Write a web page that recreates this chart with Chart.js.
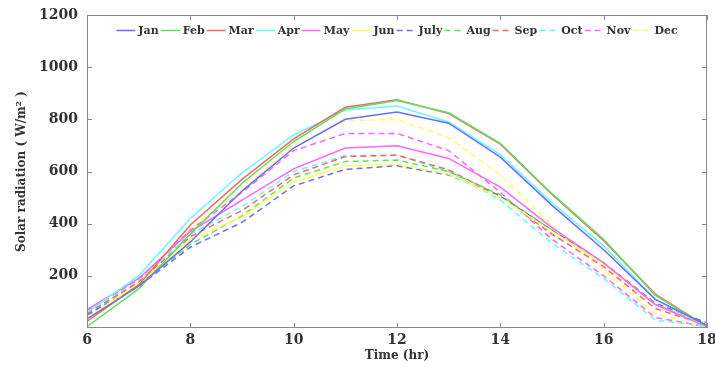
<!DOCTYPE html>
<html>
<head>
<meta charset="utf-8">
<script src="https://cdn.jsdelivr.net/npm/chart.js@4"></script>
<style>
  html, body { margin: 0; padding: 0; background: #fff; }
  #wrap { width: 715px; height: 367px; position: relative; }
</style>
</head>
<body>
<div id="wrap"><canvas id="solar-chart"></canvas></div>
<script>
// ── Data ──────────────────────────────────────────────────────────────────
const hours = [6, 7, 8, 9, 10, 11, 12, 13, 14, 15, 16, 17, 18];

const jan  = [35, 160, 330, 525, 690, 800, 828, 785, 655, 470, 300, 110, 10];
const feb  = [5, 150, 360, 555, 715, 840, 872, 825, 708, 515, 340, 125, 5];
const mar  = [25, 165, 395, 570, 725, 846, 875, 822, 705, 512, 335, 130, 5];
const apr  = [60, 200, 420, 595, 740, 836, 851, 790, 665, 480, 315, 110, 5];
const may  = [70, 190, 370, 490, 610, 690, 699, 650, 540, 385, 250, 90, 5];
const jun  = [40, 170, 340, 425, 560, 621, 629, 590, 500, 370, 245, 90, 5];
const july = [50, 160, 310, 405, 545, 608, 622, 587, 505, 375, 250, 95, 20];
const aug  = [50, 165, 320, 430, 575, 638, 644, 600, 510, 375, 245, 90, 10];
const sep  = [55, 175, 350, 450, 587, 657, 663, 606, 505, 360, 235, 75, 10];
const oct  = [58, 180, 360, 465, 600, 661, 662, 600, 490, 325, 190, 30, 5];
const nov  = [65, 185, 375, 520, 680, 746, 746, 680, 520, 340, 200, 40, 5];
const dec  = [45, 180, 380, 530, 700, 795, 800, 730, 587, 395, 222, 55, 5];

const monthNames = ['Jan', 'Feb', 'Mar', 'Apr', 'May', 'Jun', 'July', 'Aug', 'Sep', 'Oct', 'Nov', 'Dec'];
const monthSeries = [jan, feb, mar, apr, may, jun, july, aug, sep, oct, nov, dec];

const xTicks = [6, 8, 10, 12, 14, 16, 18];
const yTicks = [200, 400, 600, 800, 1000, 1200];

// ── Styles ───────────────────────────────────────────────────────────────
const palette = ['#6b6bff', '#5fe05f', '#ff6464', '#66ffff', '#ff66ff', '#ffff66'];
const AXIS_COLOR = '#8a8a8a';
const TEXT_COLOR = '#333333';
const SERIF = '"DejaVu Serif", serif';

const datasets = monthSeries.map((vals, i) => ({
    label: monthNames[i],
    data: vals.map((v, k) => ({ x: hours[k], y: v })),
    borderColor: palette[i % 6],
    backgroundColor: palette[i % 6],
    borderWidth: 1.5,
    borderDash: i < 6 ? [] : [6, 4],
    pointRadius: 0,
    tension: 0,
    fill: false,
}));

// box round the plot with inward ticks, like the reference
const boxPlugin = {
    id: 'boxPlugin',
    afterDatasetsDraw(chart) {
        const { ctx, chartArea: a, scales } = chart;
        ctx.save();
        ctx.strokeStyle = AXIS_COLOR;
        ctx.lineWidth = 1;
        ctx.setLineDash([]);
        ctx.strokeRect(a.left + 0.5, a.top + 0.5, a.right - a.left - 1, a.bottom - a.top - 1);
        const len = 5;
        ctx.beginPath();
        xTicks.forEach(t => {
            const px = Math.round(scales.x.getPixelForValue(t)) + 0.5;
            ctx.moveTo(px, a.bottom); ctx.lineTo(px, a.bottom - len);
            ctx.moveTo(px, a.top);    ctx.lineTo(px, a.top + len);
        });
        yTicks.forEach(t => {
            const py = Math.round(scales.y.getPixelForValue(t)) + 0.5;
            ctx.moveTo(a.left, py);  ctx.lineTo(a.left + len, py);
            ctx.moveTo(a.right, py); ctx.lineTo(a.right - len, py);
        });
        ctx.stroke();
        ctx.restore();
    },
};

// horizontal legend inside the plot, top centre
const innerLegend = {
    id: 'innerLegend',
    afterDatasetsDraw(chart) {
        const { ctx, chartArea: a } = chart;
        const lineW = 19, gapIn = 3, gapOut = 2;
        ctx.save();
        ctx.font = 'bold 11px ' + SERIF;
        const items = chart.data.datasets.map(ds => ({ ds, w: ctx.measureText(ds.label).width }));
        const total = items.reduce((s, it) => s + lineW + gapIn + it.w, 0) + gapOut * (items.length - 1);
        let x = (a.left + a.right) / 2 - total / 2;
        const y = a.top + 15.5;
        ctx.textBaseline = 'middle';
        items.forEach(({ ds, w }) => {
            ctx.strokeStyle = ds.borderColor;
            ctx.lineWidth = 1.5;
            ctx.setLineDash(ds.borderDash);
            ctx.beginPath();
            ctx.moveTo(x, y); ctx.lineTo(x + lineW, y);
            ctx.stroke();
            ctx.setLineDash([]);
            ctx.fillStyle = TEXT_COLOR;
            ctx.fillText(ds.label, x + lineW + gapIn, y + 1);
            x += lineW + gapIn + w + gapOut;
        });
        ctx.restore();
    },
};

new Chart(document.getElementById('solar-chart'), {
    type: 'line',
    data: { datasets },
    options: {
        responsive: true,
        maintainAspectRatio: false,
        animation: false,
        layout: { padding: { top: 15, right: 8, left: 0, bottom: 0 } },
        plugins: {
            tooltip: { enabled: false },
            legend: { display: false },
        },
        scales: {
            x: {
                type: 'linear',
                min: 6,
                max: 18,
                grid: { display: false, drawTicks: false },
                border: { display: false },
                afterBuildTicks(scale) { scale.ticks = xTicks.map(v => ({ value: v })); },
                afterFit(scale) { scale.paddingLeft = 0; scale.paddingRight = 0; scale.height = 39; },
                ticks: {
                    color: TEXT_COLOR,
                    padding: 4,
                    maxRotation: 0,
                    callback: v => String(v),
                    font: { family: SERIF, size: 14, weight: 'bold' },
                },
                title: {
                    display: true,
                    text: 'Time (hr)',
                    color: TEXT_COLOR,
                    padding: { top: 0, bottom: 4 },
                    font: { family: SERIF, size: 12, weight: 'bold' },
                },
            },
            y: {
                type: 'linear',
                min: 0,
                max: 1200,
                grid: { display: false, drawTicks: false },
                border: { display: false },
                afterBuildTicks(scale) { scale.ticks = yTicks.map(v => ({ value: v })); },
                afterFit(scale) { scale.paddingTop = 0; scale.paddingBottom = 0; scale.width = 87; },
                ticks: {
                    color: TEXT_COLOR,
                    padding: 9,
                    callback: v => String(v),
                    font: { family: SERIF, size: 14, weight: 'bold' },
                },
                title: {
                    display: true,
                    text: 'Solar radiation ( W/m² )',
                    color: TEXT_COLOR,
                    padding: { top: 15, bottom: 0 },
                    font: { family: SERIF, size: 12, weight: 'bold' },
                },
            },
        },
    },
    plugins: [boxPlugin, innerLegend],
});
</script>
</body>
</html>
